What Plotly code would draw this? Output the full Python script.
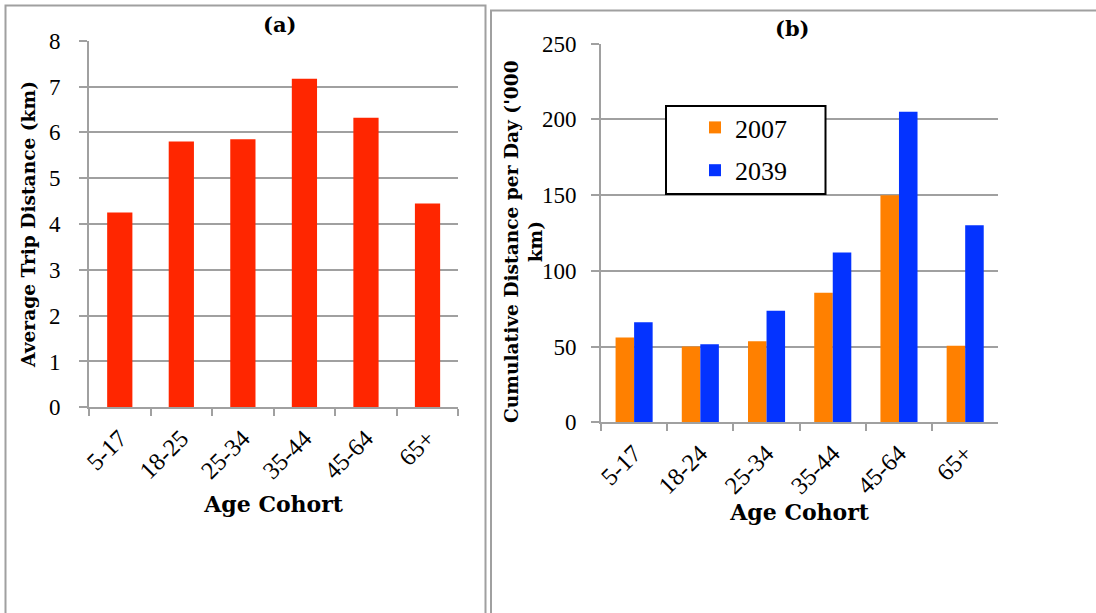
import plotly.graph_objects as go

W, H = 1096, 613

# ---- data ----
cohorts_a = ["5-17", "18-25", "25-34", "35-44", "45-64", "65+"]
avg_trip_km = [4.25, 5.80, 5.85, 7.17, 6.32, 4.45]

cohorts_b = ["5-17", "18-24", "25-34", "35-44", "45-64", "65+"]
cum_2007 = [56, 50, 53.5, 85.5, 150, 50.6]
cum_2039 = [66, 51.5, 73.7, 112.2, 205, 130.2]

yticks_a = [0, 1, 2, 3, 4, 5, 6, 7, 8]
yticks_b = [0, 50, 100, 150, 200, 250]

TICKFAM = "Liberation Serif"
TITLEFAM = "DejaVu Serif"
GRID = "#A0A0A0"
RED = "#FF2600"
ORANGE = "#FF8000"
BLUE = "#0433FF"


def px(x):
    return x / W


def py(y):
    return 1 - y / H


fig = go.Figure()

fig.add_trace(go.Bar(x=cohorts_a, y=avg_trip_km, marker=dict(color=RED, line=dict(width=0)),
                     width=0.41, showlegend=False, xaxis="x", yaxis="y"))
fig.add_trace(go.Bar(x=cohorts_b, y=cum_2007, name="2007", marker=dict(color=ORANGE, line=dict(width=0)),
                     legendgroup="g1", xaxis="x2", yaxis="y2"))
fig.add_trace(go.Bar(x=cohorts_b, y=cum_2039, name="2039", marker=dict(color=BLUE, line=dict(width=0)),
                     legendgroup="g2", xaxis="x2", yaxis="y2"))

tickfont_y = dict(family=TICKFAM, size=23, color="black")
tickfont_x = dict(family=TICKFAM, size=24.5, color="black")
xtitlefont = dict(family=TITLEFAM, size=22, color="black", weight="bold")
ytitlefont = dict(family=TITLEFAM, size=18.6, color="black", weight="bold")
panelfont = dict(family=TITLEFAM, size=21, color="black", weight="bold")

common_x = dict(type="category", tickangle=-45, tickfont=tickfont_x, ticks="outside", tickson="boundaries",
                ticklen=7, tickcolor=GRID, tickwidth=2, showline=True, linecolor=GRID, linewidth=2,
                showgrid=False, zeroline=False, automargin=False)
common_y = dict(tickfont=tickfont_y, ticks="outside", ticklen=8, tickcolor=GRID, tickwidth=2,
                showline=True, linecolor=GRID, linewidth=2, showgrid=True, gridcolor=GRID, gridwidth=2,
                zeroline=False, automargin=False)

fig.update_layout(
    width=W, height=H, margin=dict(l=0, r=0, t=0, b=0),
    paper_bgcolor="white", plot_bgcolor="white",
    barmode="group", bargap=0.44, bargroupgap=0,
    xaxis=dict(domain=[px(89), px(458.3)], anchor="y", ticklabelstandoff=5,
               title=dict(text="Age Cohort", font=xtitlefont, standoff=14), **common_x),
    yaxis=dict(domain=[py(407.3), py(40.7)], anchor="x", range=[0, 8], tickvals=yticks_a,
               ticklabelstandoff=14,
               title=dict(text="Average Trip Distance (km)", font=ytitlefont, standoff=8), **common_y),
    xaxis2=dict(domain=[px(601), px(998.3)], anchor="y2", ticklabelstandoff=5,
                title=dict(text="Age Cohort", font=xtitlefont, standoff=0), **common_x),
    yaxis2=dict(domain=[py(422.3), py(43.7)], anchor="x2", range=[0, 250], tickvals=yticks_b,
                ticklabelstandoff=10, **common_y),
    legend=dict(x=px(695), y=py(104), xanchor="left", yanchor="top", bgcolor="rgba(0,0,0,0)",
                borderwidth=0, tracegroupgap=6, font=dict(family=TICKFAM, size=26, color="black")),
    annotations=[
        dict(text="(a)", x=px(279), y=py(25), xref="paper", yref="paper", showarrow=False,
             font=panelfont, xanchor="center", yanchor="middle"),
        dict(text="(b)", x=px(792), y=py(28), xref="paper", yref="paper", showarrow=False,
             font=panelfont, xanchor="center", yanchor="middle"),
        dict(text="Cumulative Distance per Day ('000<br>km)", textangle=-90, x=px(524), y=py(242),
             xref="paper", yref="paper", showarrow=False, font=ytitlefont, align="center",
             xanchor="center", yanchor="middle"),
    ],
    shapes=[
        dict(type="rect", xref="paper", yref="paper", x0=px(5.5), x1=px(485.5), y0=py(5.5), y1=py(640),
             line=dict(color=GRID, width=2), layer="below"),
        dict(type="rect", xref="paper", yref="paper", x0=px(491), x1=px(1120), y0=py(10.5), y1=py(640),
             line=dict(color=GRID, width=2), layer="below"),
        dict(type="rect", xref="paper", yref="paper", x0=px(666), x1=px(825.5), y0=py(106), y1=py(194),
             line=dict(color="black", width=2), fillcolor="white", layer="above"),
    ],
)

fig.write_html("out.html")
